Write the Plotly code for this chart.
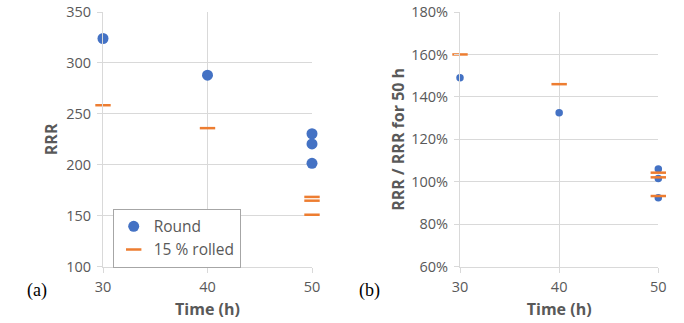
import plotly.graph_objects as go

# Annealing time (h) for each measured sample
time_round = [30, 40, 50, 50, 50]
time_rolled = [30, 40, 50, 50, 50]

# (a) residual resistivity ratio
rrr_round = [324, 288, 230.5, 220.5, 201.5]
rrr_rolled = [258.5, 236, 168.5, 164.8, 151]

# (b) RRR normalised to the 50 h value
ratio_round = [1.49, 1.325, 1.06, 1.015, 0.925]
ratio_rolled = [1.60, 1.46, 1.043, 1.021, 0.933]

x_ticks = [30, 40, 50]
rrr_ticks = [100, 150, 200, 250, 300, 350]
ratio_ticks = [0.6, 0.8, 1.0, 1.2, 1.4, 1.6, 1.8]

BLUE = "#4472C4"
ORANGE = "#ED7D31"
GRID = "#D9D9D9"
TXT = "#595959"
FONT = "Open Sans"

W, H = 684, 323


def px_x(p):
    return p / W


def px_y(p):
    return (H - p) / H


fig = go.Figure()

# left panel
fig.add_trace(go.Scatter(
    x=time_round, y=rrr_round, mode="markers", name="Round",
    marker=dict(symbol="circle", size=11, color=BLUE),
    xaxis="x", yaxis="y", cliponaxis=False, legendgroup="a",
))
fig.add_trace(go.Scatter(
    x=time_rolled, y=rrr_rolled, mode="markers", name="15 % rolled",
    marker=dict(symbol="line-ew", size=11, color=ORANGE,
                line=dict(color=ORANGE, width=2.5)),
    xaxis="x", yaxis="y", cliponaxis=False, legendgroup="b",
))

# right panel
fig.add_trace(go.Scatter(
    x=time_round, y=ratio_round, mode="markers", name="Round",
    marker=dict(symbol="circle", size=7.5, color=BLUE),
    xaxis="x2", yaxis="y2", cliponaxis=False, showlegend=False,
))
fig.add_trace(go.Scatter(
    x=time_rolled, y=ratio_rolled, mode="markers", name="15 % rolled",
    marker=dict(symbol="line-ew", size=11, color=ORANGE,
                line=dict(color=ORANGE, width=2.5)),
    xaxis="x2", yaxis="y2", cliponaxis=False, showlegend=False,
))

y_dom = [px_y(266.7), px_y(12)]

common_x = dict(
    range=[30, 50], tickvals=x_ticks, showgrid=True, gridcolor=GRID, gridwidth=1,
    showline=True, linecolor=GRID, linewidth=1, ticks="outside", ticklen=5,
    tickcolor=GRID, tickfont=dict(family=FONT, size=14.5, color=TXT),
    ticklabelstandoff=2,
    zeroline=False, automargin=False, fixedrange=True,
)
common_y = dict(
    showgrid=True, gridcolor=GRID, gridwidth=1, showline=True, linecolor=GRID,
    linewidth=1, ticks="outside", ticklen=5, tickcolor=GRID,
    tickfont=dict(family=FONT, size=14.5, color=TXT), ticklabelstandoff=3,
    zeroline=False, automargin=False, fixedrange=True, domain=y_dom,
)
title_font = dict(family=FONT, size=16, color=TXT, weight="bold")

fig.update_layout(
    width=W, height=H,
    margin=dict(l=0, r=0, t=0, b=0),
    paper_bgcolor="white", plot_bgcolor="white",
    xaxis=dict(common_x, domain=[px_x(103), px_x(312)], anchor="y",
               title=dict(text="Time (h)", font=title_font, standoff=8)),
    yaxis=dict(common_y, range=[100, 350], tickvals=rrr_ticks, anchor="x",
               title=dict(text="RRR", font=title_font, standoff=4)),
    xaxis2=dict(common_x, domain=[px_x(460), px_x(658.3)], anchor="y2",
                title=dict(text="Time (h)", font=title_font, standoff=8)),
    yaxis2=dict(common_y, range=[0.6, 1.8], tickvals=ratio_ticks,
                tickformat=".0%", anchor="x2",
                title=dict(text="RRR / RRR for 50 h", font=title_font, standoff=2)),
    showlegend=True,
    legend=dict(
        x=px_x(112.7), y=px_y(208.7), xanchor="left", yanchor="top",
        bgcolor="white", bordercolor="#A6A6A6", borderwidth=1,
        font=dict(family=FONT, size=15.5, color=TXT),
        traceorder="grouped", tracegroupgap=0,
    ),
    annotations=[
        dict(text="(a)", x=px_x(25), y=px_y(303), xref="paper", yref="paper",
             showarrow=False, font=dict(family="Liberation Serif", size=18, color="black")),
        dict(text="(b)", x=px_x(369), y=px_y(303), xref="paper", yref="paper",
             showarrow=False, font=dict(family="Liberation Serif", size=18, color="black")),
    ],
)

fig.write_html("out.html")
